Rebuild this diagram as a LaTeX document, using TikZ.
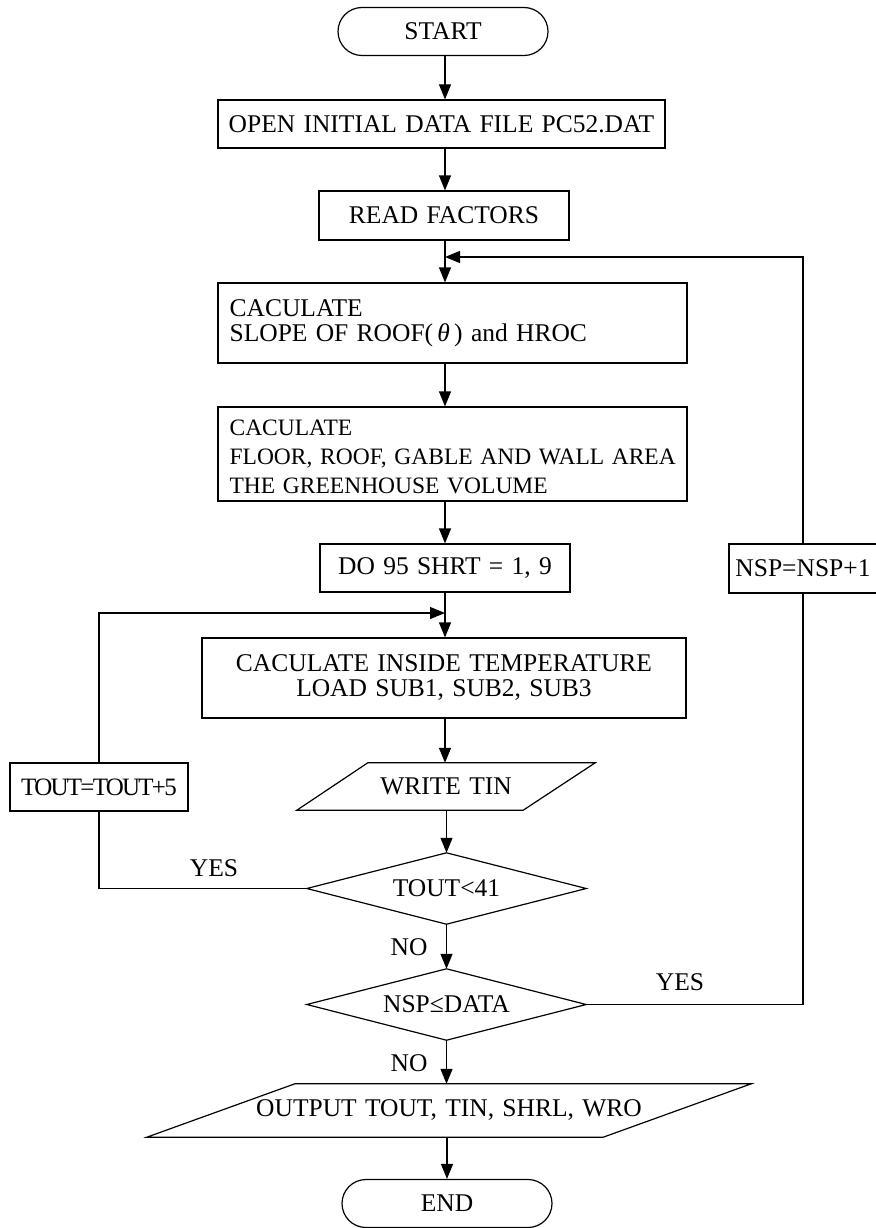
\documentclass[tikz,border=0pt]{standalone}
\usepackage{fontspec}
\setmainfont{Liberation Serif}[WordSpace=1.3]
\usetikzlibrary{arrows.meta,calc}
\begin{document}
\begin{tikzpicture}[x=1pt,y=1pt,
  txt/.style={font=\fontsize{25.5}{25}\selectfont, inner sep=0pt},
  ln/.style={line width=1.2pt},
  arr/.style={ln, -{Triangle[length=15pt,width=12pt]}},
  box/.style={txt, draw, ln, rectangle},
  pill/.style={txt, draw, ln, rectangle, rounded corners=24pt, minimum height=48},
  ghost/.style={txt, rectangle}
]
\useasboundingbox (0,0) rectangle (875,-1228);

% nodes
\node[pill, minimum width=210] (start) at (443,-31.5) {START};
\node[box, minimum width=447, minimum height=48] (open) at (441.5,-124) {OPEN INITIAL DATA FILE PC52.DAT};
\node[box, minimum width=250, minimum height=49] (read) at (444,-215.5) {READ FACTORS};
\node[box, minimum width=469, minimum height=80] (slope) at (452.5,-323) {};
\node[txt, anchor=west, align=left] (slopetxt) at ([xshift=12pt]slope.west)
  {CACULATE\\SLOPE OF ROOF(\,{\itshape θ}\,) and HROC};
\node[box, minimum width=469, minimum height=94] (floor) at (452.5,-454) {};
\node[txt, anchor=west, align=left, font=\fontsize{23.5}{29}\selectfont] (floortxt) at ([xshift=12pt,yshift=-3pt]floor.west)
  {CACULATE\\FLOOR, ROOF, GABLE AND WALL AREA\\THE GREENHOUSE VOLUME};
\node[box, minimum width=250, minimum height=48] (do) at (445,-568) {DO 95 SHRT = 1, 9};
\node[box, minimum width=484, minimum height=80, align=center] (inside) at (444,-678)
  {CACULATE INSIDE TEMPERATURE\\LOAD SUB1, SUB2, SUB3};
\node[ghost, minimum width=298, minimum height=47] (write) at (446,-786.5) {WRITE TIN};
\node[box, minimum width=178, minimum height=48, font=\fontsize{25}{26}\selectfont\addfontfeatures{LetterSpace=-7}] (tout5) at (99,-787) {TOUT=TOUT+5};
\node[ghost, minimum width=279, minimum height=71] (toutd) at (446.5,-888.5) {TOUT<41};
\node[ghost, minimum width=279, minimum height=71] (nspd) at (446.5,-1004.5) {NSP≤DATA};
\node[box, minimum width=148, minimum height=49] (nspbox) at (803,-568.5) {NSP=NSP+1};
\node[ghost, minimum width=604, minimum height=53] (output) at (449,-1110.5) {OUTPUT TOUT, TIN, SHRL, WRO};
\node[pill, minimum width=210] (end) at (447,-1203.5) {END};

% shapes drawn around ghost nodes
\draw[ln] ($(write.north west)+(71,0)$) -- (write.north east) -- ($(write.south east)-(72,0)$) -- (write.south west) -- cycle;
\draw[ln] (toutd.north) -- (toutd.east) -- (toutd.south) -- (toutd.west) -- cycle;
\draw[ln] (nspd.north) -- (nspd.east) -- (nspd.south) -- (nspd.west) -- cycle;
\draw[ln] ($(output.north west)+(148,0)$) -- (output.north east) -- ($(output.south east)-(148,0)$) -- (output.south west) -- cycle;

% merge points
\coordinate (m1) at (445,-257);
\coordinate (m2) at (445,-613);

% main flow
\draw[arr] (start.south -| 445,0) -- (open.north -| 445,0);
\draw[arr] (open.south -| 445,0) -- (read.north -| 445,0);
\draw[arr] (read.south -| 445,0) -- (slope.north -| 445,0);
\draw[arr] (slope.south -| 445,0) -- (floor.north -| 445,0);
\draw[arr] (floor.south -| 445,0) -- (do.north -| 445,0);
\draw[arr] (do.south -| 445,0) -- (inside.north -| 445,0);
\draw[arr] (inside.south -| 445,0) -- (write.north -| 445,0);
\draw[arr] (write.south -| 446.5,0) -- (toutd.north);
\draw[arr] (toutd.south) -- (nspd.north);
\draw[arr] (nspd.south) -- (output.north -| 446.5,0);
\draw[arr] (output.south -| 447,0) -- (end.north);

% loops
\draw[ln] (toutd.west) -| (tout5.south);
\draw[arr] (tout5.north) |- (m2);
\draw[ln] (nspd.east) -| (nspbox.south);
\draw[arr] (nspbox.north) |- (m1);

% labels
\node[txt] (yes1) at (214,-868) {YES};
\node[txt] (yes2) at (680,-982) {YES};
\node[txt] (no1) at (409,-947) {NO};
\node[txt] (no2) at (409,-1063) {NO};
\end{tikzpicture}
\end{document}
